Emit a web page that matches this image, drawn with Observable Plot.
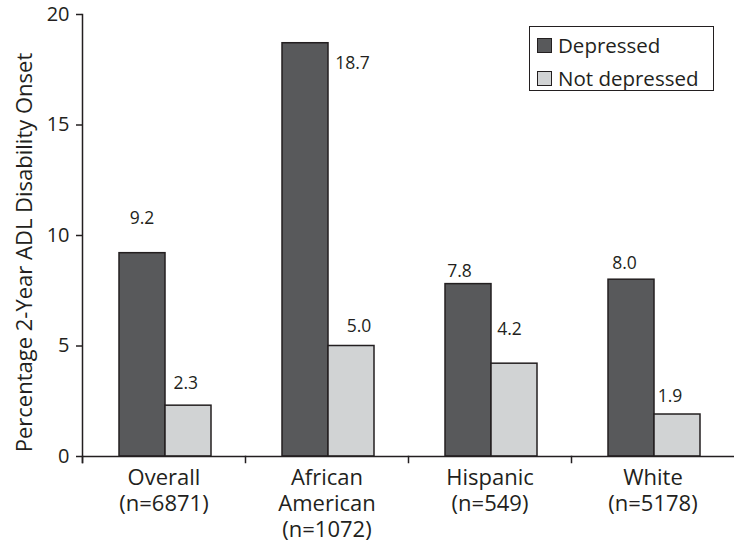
<!DOCTYPE html>
<html><head><meta charset="utf-8">
<script src="https://cdn.jsdelivr.net/npm/d3@7"></script>
<script src="https://cdn.jsdelivr.net/npm/@observablehq/plot@0.6"></script>
<style>
body{margin:0;background:#fff;}
#wrap{position:relative;width:735px;height:556px;font-family:"Open Sans",sans-serif;color:#231f20;}
.legend{position:absolute;left:529px;top:26px;width:183px;height:63px;border:1.5px solid #231f20;background:#fff;}
.legend .item{position:absolute;left:7px;display:flex;align-items:center;font-size:20.5px;line-height:1;white-space:nowrap;}
.legend .sw{width:13px;height:13px;border:1px solid #231f20;margin-right:6px;}
</style></head><body><div id="wrap"></div>
<script>
// ---- data ----
const categories = ["Overall", "African American", "Hispanic", "White"];
const sampleSizes = ["(n=6871)", "(n=1072)", "(n=549)", "(n=5178)"];
const groups = ["Depressed", "Not depressed"];
const depressed = [9.2, 18.7, 7.8, 8.0];
const notDepressed = [2.3, 5.0, 4.2, 1.9];
const yTicks = [0, 5, 10, 15, 20];
const yTitle = "Percentage 2-Year ADL Disability Onset";

// ---- styling ----
const colors = ["#58595b", "#d1d3d4"];
const ink = "#231f20";
// label offsets [dx, dy] in px relative to bar centre/top, in row order
const labelOffsets = [[-0.5, -35], [-2.7, -22], [47, 20], [7.5, -20], [-9, -13], [-5, -34], [-7, -16], [-7.5, -18]];

const rows = categories.flatMap((c, i) => [
  {category: c, group: groups[0], value: depressed[i]},
  {category: c, group: groups[1], value: notDepressed[i]}
]);
const tickLabel = new Map(categories.map((c, i) => [c, c.replace(" ", "\n") + "\n" + sampleSizes[i]]));

const W = 735, H = 556, mT = 14, mB = 100, mL = 80, mR = 0;

const plot = Plot.plot({
  width: W, height: H,
  marginTop: mT, marginBottom: mB, marginLeft: mL, marginRight: mR,
  style: {fontFamily: '"Open Sans", sans-serif', color: ink, background: "#fff", overflow: "visible"},
  fx: {domain: categories, padding: 0, label: null},
  x: {domain: groups, paddingInner: 0, paddingOuter: 0.742, align: 0.52, axis: null},
  y: {domain: [0, 20], label: null},
  color: {domain: groups, range: colors},
  marks: [
    Plot.barY(rows, {fx: "category", x: "group", y: "value", fill: "group", stroke: ink, strokeWidth: 1.5}),
    Plot.ruleY([0], {stroke: ink, strokeWidth: 1.5}),
    Plot.frame({anchor: "left", facetAnchor: "left", insetBottom: -6, stroke: ink, strokeWidth: 1.5}),
    Plot.frame({anchor: "left", insetTop: H - mT - mB, insetBottom: -6, stroke: ink, strokeWidth: 1.5}),
    Plot.axisY({ticks: yTicks, tickSize: 6, tickPadding: 7, fontSize: 20, strokeWidth: 1.5, label: null}),
    Plot.axisFx({anchor: "bottom", tickSize: 0, tickPadding: 10, fontSize: 22, lineHeight: 1.19,
      tickFormat: (c) => tickLabel.get(c), label: null}),
    Plot.text([yTitle], {frameAnchor: "left", textAnchor: "middle", rotate: -90, dx: -58, dy: 17,
      facetAnchor: "left", fontSize: 22, text: (d) => d}),
    ...rows.map((d, k) => Plot.text([d], {
      fx: "category", x: "group", y: "value",
      text: (r) => r.value.toFixed(1),
      dx: labelOffsets[k][0], dy: labelOffsets[k][1],
      fontSize: 17.5, fill: ink
    }))
  ]
});

const wrap = document.getElementById("wrap");
wrap.appendChild(plot);
const legend = document.createElement("div");
legend.className = "legend";
groups.forEach((g, i) => {
  const item = document.createElement("div");
  item.className = "item";
  item.style.top = (i === 0 ? 8 : 41) + "px";
  const sw = document.createElement("div");
  sw.className = "sw";
  sw.style.background = colors[i];
  item.appendChild(sw);
  item.appendChild(document.createTextNode(g));
  legend.appendChild(item);
});
wrap.appendChild(legend);
</script>
</body></html>
